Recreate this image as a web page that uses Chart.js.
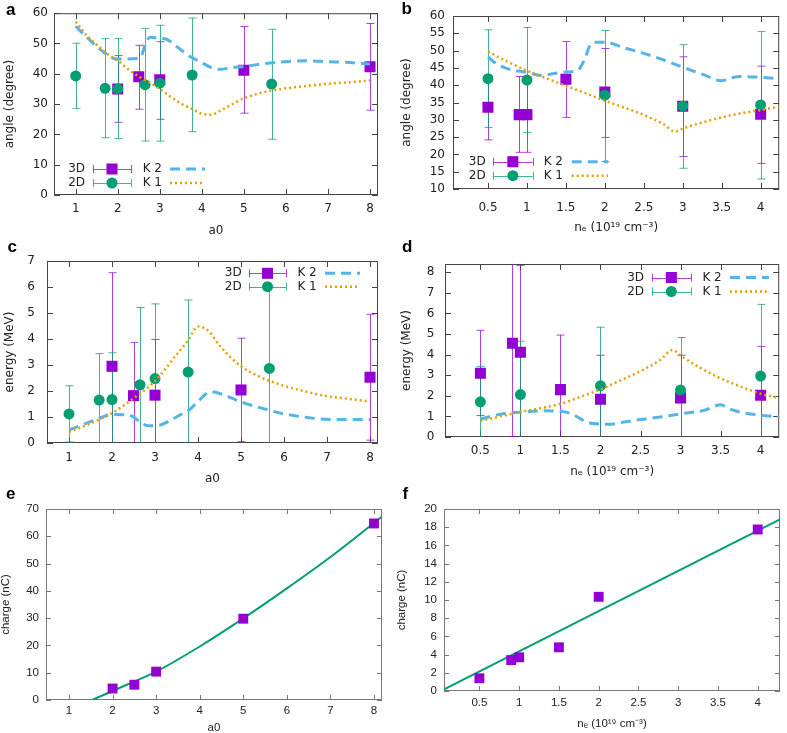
<!DOCTYPE html>
<html>
<head>
<meta charset="utf-8">
<script src="https://cdn.jsdelivr.net/npm/chart.js@4.4.0/dist/chart.umd.min.js"></script>
<style>
  body { margin: 0; background: #fff; width: 787px; height: 733px; position: relative; overflow: hidden; }
  canvas { position: absolute; }
</style>
</head>
<body>
<canvas id="chartA"></canvas>
<canvas id="chartB"></canvas>
<canvas id="chartC"></canvas>
<canvas id="chartD"></canvas>
<canvas id="chartE"></canvas>
<canvas id="chartF"></canvas>
<script>
/* --- 1. DATA --- */

// a : angle vs a0
const a3dX = [2, 2.5, 3, 5, 8];
const a3dY = [35, 39, 38, 41.2, 42.3];
const a3dLow = [24, 28.3, 25, 27, 28];
const a3dHigh = [46, 49.4, 50.6, 55.6, 56.6];
const a2dX = [1, 1.7, 2, 2.65, 3, 3.77, 5.66];
const a2dY = [39.3, 35.2, 35, 36.4, 36.9, 39.6, 36.6];
const a2dLow = [28.6, 18.9, 18.6, 17.8, 17.8, 20.9, 18.4];
const a2dHigh = [50.1, 51.6, 51.6, 55, 56, 58.4, 54.7];
const aK2X = [1, 1.26, 1.5, 1.7, 1.82, 2, 2.49, 2.57, 2.65, 2.77, 3, 3.16, 3.4, 3.72, 3.96, 4.27, 4.43, 4.75, 5, 5.46, 5.98, 6.49, 7, 7.52, 8];
const aK2Y = [55.7, 52.1, 49.0, 46.8, 45.5, 44.9, 45.1, 46.2, 49.5, 52.1, 51.7, 51.4, 49.0, 45.7, 44.0, 41.8, 41.5, 42.1, 42.4, 43.3, 44.0, 44.3, 44.0, 43.7, 43.2];
const aK1X = [1, 1.25, 1.5, 1.75, 2, 2.25, 2.5, 2.75, 3, 3.25, 3.5, 3.75, 4, 4.2, 4.5, 5, 5.5, 6, 6.5, 7, 7.5, 8];
const aK1Y = [57.2, 52.9, 49.6, 46.6, 44.3, 41.5, 39.1, 37.2, 35.0, 32.5, 30.2, 28.5, 26.8, 26.5, 28.3, 31.9, 34.0, 35.2, 36.0, 36.7, 37.2, 37.8];

// b : angle vs ne
const b3dX = [0.5, 0.9, 1, 1.5, 2, 3, 4];
const b3dY = [33.6, 31.5, 31.5, 41.7, 38, 33.9, 31.6];
const b3dLow = [24.2, 20.6, 20.6, 30.7, 24.9, 19.4, 17.4];
const b3dHigh = [42.9, 42.5, 42.5, 52.6, 50.6, 48.2, 45.5];
const b2dX = [0.5, 1, 2, 3, 4];
const b2dY = [41.9, 41.5, 37.1, 34, 34.3];
const b2dLow = [27.8, 26.3, 17.9, 16, 12.9];
const b2dHigh = [56, 56.7, 55.8, 51.7, 55.5];
const bK2X = [0.5, 0.6, 0.8, 0.95, 1.05, 1.2, 1.35, 1.5, 1.65, 1.75, 1.8, 1.87, 2, 2.25, 2.5, 2.75, 3, 3.25, 3.5, 3.6, 3.75, 4, 4.23];
const bK2Y = [48.2, 46.3, 44.4, 43.9, 43.4, 42.8, 43.4, 43.8, 44.3, 48, 51.1, 52.4, 52.4, 50.8, 49.2, 47.3, 45.2, 43.2, 41.3, 42.0, 42.5, 42.3, 41.9];
const bK1X = [0.5, 0.75, 1, 1.25, 1.5, 1.75, 2, 2.25, 2.5, 2.75, 2.9, 3, 3.25, 3.5, 3.75, 4, 4.23];
const bK1Y = [49.7, 46.8, 44.2, 42.0, 39.8, 37.7, 35.5, 33.5, 31.4, 28.8, 26.6, 27.5, 29.2, 30.7, 31.9, 32.8, 33.8];

// c : energy vs a0
const c3dX = [2, 2.5, 3, 5, 8];
const c3dY = [2.95, 1.82, 1.84, 2.04, 2.53];
const c3dLow = [-0.65, -0.23, -0.3, 0.05, 0.11];
const c3dHigh = [6.55, 3.87, 3.98, 4.03, 4.95];
const c2dX = [1, 1.7, 2, 2.65, 3, 3.77, 5.66];
const c2dY = [1.12, 1.65, 1.67, 2.24, 2.48, 2.73, 2.87];
const c2dLow = [0.04, -0.14, -0.13, -0.73, -0.39, -0.04, -0.26];
const c2dHigh = [2.2, 3.44, 3.47, 5.21, 5.35, 5.5, 6.0];
const cK2X = [1, 1.25, 1.5, 1.75, 2, 2.35, 2.5, 2.65, 2.85, 3.1, 3.3, 3.55, 3.8, 4, 4.3, 4.6, 5, 5.5, 6, 6.5, 7, 7.5, 8];
const cK2Y = [0.5, 0.66, 0.82, 0.98, 1.1, 1.08, 1.0, 0.8, 0.66, 0.68, 0.82, 1.05, 1.28, 1.6, 1.97, 1.85, 1.58, 1.33, 1.12, 0.99, 0.91, 0.9, 0.9];
const cK1X = [1, 1.5, 2, 2.5, 3, 3.5, 3.75, 4, 4.25, 4.5, 5, 5.5, 6, 6.5, 7, 7.5, 8];
const cK1Y = [0.42, 0.75, 1.15, 1.72, 2.38, 3.4, 3.9, 4.48, 4.3, 3.75, 2.95, 2.5, 2.2, 1.98, 1.8, 1.7, 1.6];

// d : energy vs ne
const d3dX = [0.5, 0.9, 1, 1.5, 2, 3, 4];
const d3dY = [3.1, 4.55, 4.12, 2.3, 1.83, 1.9, 2.03];
const d3dLow = [1.04, 0.02, -0.09, -0.35, -0.31, -0.17, -0.34];
const d3dHigh = [5.18, 9.08, 8.33, 4.95, 3.97, 3.97, 4.4];
const d2dX = [0.5, 1, 2, 3, 4];
const d2dY = [1.71, 2.06, 2.49, 2.28, 2.96];
const d2dLow = [-0.01, -0.53, -0.35, -0.27, -0.52];
const d2dHigh = [3.43, 4.65, 5.33, 4.83, 6.44];
const dK2X = [0.5, 0.8, 1.05, 1.3, 1.55, 1.65, 1.75, 1.85, 2.1, 2.3, 2.5, 2.77, 3.03, 3.3, 3.5, 3.6, 3.75, 4, 4.23];
const dK2Y = [0.88, 1.14, 1.22, 1.27, 1.22, 1.1, 0.88, 0.68, 0.62, 0.73, 0.85, 0.98, 1.14, 1.3, 1.56, 1.38, 1.2, 1.06, 0.98];
const dK1X = [0.5, 0.75, 1, 1.25, 1.5, 1.75, 2, 2.25, 2.5, 2.75, 2.9, 3, 3.25, 3.5, 3.75, 4, 4.23];
const dK1Y = [0.78, 1.0, 1.22, 1.4, 1.61, 1.95, 2.31, 2.75, 3.2, 3.75, 4.23, 3.95, 3.35, 2.85, 2.45, 2.1, 1.9];

// e : charge vs a0
const e3dX = [2, 2.5, 3, 5, 8];
const e3dY = [4.2, 5.6, 10.4, 29.8, 64.7];
const eFitX = [1.53, 2, 2.5, 3, 4, 5, 6, 7, 8, 8.19];
const eFitY = [0, 3.3, 6.8, 10.4, 19.6, 29.9, 40.9, 52.4, 64.9, 67.3];

// f : charge vs ne
const f3dX = [0.5, 0.9, 1, 1.5, 2, 4];
const f3dY = [1.4, 3.4, 3.7, 4.8, 10.35, 17.75];
const fFitX = [0.055, 4.28];
const fFitY = [0.18, 18.86];

// tick labels
const ticksA0 = [1, 2, 3, 4, 5, 6, 7, 8];
const ticksNe = [0.5, 1, 1.5, 2, 2.5, 3, 3.5, 4];
const ticksAngleA = [0, 10, 20, 30, 40, 50, 60];
const ticksAngleB = [10, 15, 20, 25, 30, 35, 40, 45, 50, 55, 60];
const ticksEnergyC = [0, 1, 2, 3, 4, 5, 6, 7];
const ticksEnergyD = [0, 1, 2, 3, 4, 5, 6, 7, 8];
const ticksChargeE = [0, 10, 20, 30, 40, 50, 60, 70];
const ticksChargeF = [0, 2, 4, 6, 8, 10, 12, 14, 16, 18, 20];

const PURPLE = "#9400d3";
const GREEN = "#009e73";
const BLUE = "#56b4e9";
const ORANGE = "#e69f00";
const TEXT = "#222";
const NE_TITLE = "nₑ (10¹⁹ cm⁻³)";

/* --- 2. DATASETS --- */

function pts(xs, ys) {
    return xs.map((x, i) => ({ x, y: ys[i] }));
}

function errSet(label, xs, ys, lo, hi, color, style, radius) {
    return {
        label, data: pts(xs, ys), errLow: lo, errHigh: hi,
        showLine: false, pointStyle: style, pointRadius: radius,
        backgroundColor: color, borderColor: color, borderWidth: 0,
        order: label === "3D" ? 3 : 2
    };
}

function curveSet(label, xs, ys, color, dash, width, order) {
    return {
        label, data: pts(xs, ys), showLine: true, pointRadius: 0,
        borderColor: color, backgroundColor: color, borderWidth: width,
        borderDash: dash, borderCapStyle: "butt", cubicInterpolationMode: "monotone",
        fill: false, order
    };
}

function fourSets(x3, y3, l3, h3, x2, y2, l2, h2, xk2, yk2, xk1, yk1) {
    return [
        errSet("3D", x3, y3, l3, h3, PURPLE, "rect", 7.8),
        errSet("2D", x2, y2, l2, h2, GREEN, "circle", 5.5),
        curveSet("K 2", xk2, yk2, BLUE, [10, 6], 3, 1),
        curveSet("K 1", xk1, yk1, ORANGE, [2, 3], 2.5, 0)
    ];
}

/* --- 3. GNUPLOT LOOK : frame, inward ticks, error bars, key, letter --- */

const gnuStyle = {
    id: "gnuStyle",
    beforeDatasetsDraw(chart, args, o) {
        const { ctx, chartArea: a, scales: { x, y } } = chart;
        ctx.save();
        ctx.strokeStyle = o.frameColor;
        ctx.lineWidth = 1;
        ctx.strokeRect(a.left + 0.5, a.top + 0.5, a.right - a.left - 1, a.bottom - a.top - 1);

        // ticks on the four sides, pointing inside
        ctx.beginPath();
        x.ticks.forEach(t => {
            const px = Math.round(x.getPixelForValue(t.value)) + 0.5;
            ctx.moveTo(px, a.bottom); ctx.lineTo(px, a.bottom - o.tick);
            ctx.moveTo(px, a.top); ctx.lineTo(px, a.top + o.tick);
        });
        y.ticks.forEach(t => {
            const py = Math.round(y.getPixelForValue(t.value)) + 0.5;
            ctx.moveTo(a.left, py); ctx.lineTo(a.left + o.tick, py);
            ctx.moveTo(a.right, py); ctx.lineTo(a.right - o.tick, py);
        });
        ctx.stroke();

        // error bars
        ctx.beginPath();
        ctx.rect(a.left, a.top, a.right - a.left, a.bottom - a.top);
        ctx.clip();
        chart.data.datasets.forEach(ds => {
            if (!ds.errLow) return;
            ctx.strokeStyle = ds.backgroundColor;
            ctx.globalAlpha = 0.75;
            ctx.beginPath();
            ds.data.forEach((p, i) => {
                const px = Math.round(x.getPixelForValue(p.x)) + 0.5;
                const lo = y.getPixelForValue(ds.errLow[i]);
                const hi = y.getPixelForValue(ds.errHigh[i]);
                ctx.moveTo(px, lo); ctx.lineTo(px, hi);
                ctx.moveTo(px - 4, lo); ctx.lineTo(px + 4, lo);
                ctx.moveTo(px - 4, hi); ctx.lineTo(px + 4, hi);
            });
            ctx.stroke();
        });
        ctx.restore();
    },
    afterDatasetsDraw(chart, args, o) {
        const { ctx } = chart;
        const [bx, by] = o.box;
        ctx.save();

        // panel letter
        ctx.fillStyle = "#000";
        ctx.font = "bold 17px 'Liberation Sans', Arial, sans-serif";
        ctx.textBaseline = "alphabetic";
        ctx.textAlign = "left";
        ctx.fillText(o.letter[0], o.letter[1] - bx, o.letter[2] - by);

        // key (gnuplot style, two columns)
        const k = o.key;
        if (k) {
            const ds = chart.data.datasets;
            ctx.font = o.font;
            ctx.textAlign = "right";
            ctx.textBaseline = "middle";
            [[ds[0], ds[2]], [ds[1], ds[3]]].forEach((pair, row) => {
                const ry = k.rows[row] - by;
                const [pt, cv] = pair;
                ctx.fillStyle = TEXT;
                ctx.fillText(pt.label, k.t1 - bx, ry);
                ctx.fillText(cv.label, k.t2 - bx, ry);

                // error bar sample
                const x1 = k.s1[0] - bx, x2 = k.s1[1] - bx;
                ctx.strokeStyle = pt.backgroundColor;
                ctx.lineWidth = 1;
                ctx.globalAlpha = 0.75;
                ctx.beginPath();
                ctx.moveTo(x1, Math.round(ry) + 0.5); ctx.lineTo(x2, Math.round(ry) + 0.5);
                ctx.moveTo(Math.round(x1) + 0.5, ry - 4); ctx.lineTo(Math.round(x1) + 0.5, ry + 4);
                ctx.moveTo(Math.round(x2) + 0.5, ry - 4); ctx.lineTo(Math.round(x2) + 0.5, ry + 4);
                ctx.stroke();
                ctx.globalAlpha = 1;
                ctx.fillStyle = pt.backgroundColor;
                Chart.helpers.drawPoint(ctx, {
                    pointStyle: pt.pointStyle, radius: pt.pointRadius, rotation: 0, borderWidth: 0
                }, (x1 + x2) / 2, ry);

                // curve sample
                ctx.strokeStyle = cv.borderColor;
                ctx.lineWidth = cv.borderWidth;
                ctx.setLineDash(cv.borderDash);
                ctx.beginPath();
                ctx.moveTo(k.s2[0] - bx, ry); ctx.lineTo(k.s2[1] - bx, ry);
                ctx.stroke();
                ctx.setLineDash([]);
            });
        }
        ctx.restore();
    }
};

/* --- 4. PANEL BUILDER --- */

function buildPanel(p) {
    const [bx, by, bw, bh] = p.box;
    const [l, t, r, b] = p.area;
    const canvas = document.getElementById(p.id);
    canvas.width = bw;
    canvas.height = bh;
    canvas.style.left = bx + "px";
    canvas.style.top = by + "px";

    const font = { family: p.family, size: p.size };
    const lh = p.size * 1.2;
    const cssFont = p.size + "px " + p.family;

    return new Chart(canvas, {
        type: "scatter",
        data: { datasets: p.datasets },
        options: {
            responsive: false,
            animation: false,
            devicePixelRatio: 1,
            layout: { padding: { left: 0, top: t - by, right: bx + bw - r, bottom: 0 } },
            plugins: {
                legend: { display: false },
                tooltip: { enabled: false },
                gnuStyle: {
                    box: p.box, letter: p.letter, key: p.key, font: cssFont,
                    frameColor: p.frameColor, tick: p.tick
                }
            },
            scales: {
                x: {
                    type: "linear", min: p.xRange[0], max: p.xRange[1],
                    afterBuildTicks: s => { s.ticks = p.xTicks.map(v => ({ value: v })); },
                    afterFit: s => { s.height = by + bh - b; },
                    grid: { display: false, drawTicks: false },
                    border: { display: false },
                    ticks: {
                        color: TEXT, font, padding: p.xPad, autoSkip: false,
                        maxRotation: 0, minRotation: 0, callback: v => String(v)
                    },
                    title: {
                        display: true, text: p.xTitle, color: TEXT, font,
                        padding: { top: 0, bottom: by + bh - p.xTitleY - lh / 2 }
                    }
                },
                y: {
                    type: "linear", min: p.yRange[0], max: p.yRange[1],
                    afterBuildTicks: s => { s.ticks = p.yTicks.map(v => ({ value: v })); },
                    afterFit: s => { s.width = l - bx; },
                    grid: { display: false, drawTicks: false },
                    border: { display: false },
                    ticks: { color: TEXT, font, padding: p.yPad, autoSkip: false, callback: v => String(v) },
                    title: {
                        display: true, text: p.yTitle, color: TEXT, font,
                        padding: { top: p.yTitleX - bx - lh / 2, bottom: 0 }
                    }
                }
            }
        },
        plugins: [gnuStyle]
    });
}

/* --- 5. THE SIX PANELS --- */

const DEJAVU = "'DejaVu Sans', sans-serif";
const LIBERATION = "'Liberation Sans', Arial, sans-serif";

buildPanel({
    id: "chartA", box: [0, 0, 393, 245], area: [54, 13, 378, 195],
    xRange: [0.484, 8.19], yRange: [0, 60], xTicks: ticksA0, yTicks: ticksAngleA,
    xTitle: "a0", yTitle: "angle (degree)", xTitleY: 231, yTitleX: 9.5,
    xPad: 6.8, yPad: 6, family: DEJAVU, size: 12, frameColor: "#444", tick: 6,
    letter: ["a", 6, 15],
    key: { rows: [169, 183], t1: 85, s1: [93, 131], t2: 162, s2: [170, 205] },
    datasets: fourSets(a3dX, a3dY, a3dLow, a3dHigh, a2dX, a2dY, a2dLow, a2dHigh, aK2X, aK2Y, aK1X, aK1Y)
});

buildPanel({
    id: "chartB", box: [393, 0, 394, 245], area: [453, 16, 782, 189],
    xRange: [0.051, 4.238], yRange: [10, 60], xTicks: ticksNe, yTicks: ticksAngleB,
    xTitle: NE_TITLE, yTitle: "angle (degree)", xTitleY: 227.5, yTitleX: 406.5,
    xPad: 11.8, yPad: 8, family: DEJAVU, size: 12, frameColor: "#444", tick: 6,
    letter: ["b", 401.5, 13.5],
    key: { rows: [161.7, 175.7], t1: 485.7, s1: [493, 532.7], t2: 563, s2: [571.7, 608] },
    datasets: fourSets(b3dX, b3dY, b3dLow, b3dHigh, b2dX, b2dY, b2dLow, b2dHigh, bK2X, bK2Y, bK1X, bK1Y)
});

buildPanel({
    id: "chartC", box: [0, 236, 393, 250], area: [47, 261, 378, 443],
    xRange: [0.488, 8.186], yRange: [0, 7], xTicks: ticksA0, yTicks: ticksEnergyC,
    xTitle: "a0", yTitle: "energy (MeV)", xTitleY: 479, yTitleX: 9.5,
    xPad: 7.6, yPad: 12, family: DEJAVU, size: 12, frameColor: "#444", tick: 6,
    letter: ["c", 7.5, 251.7],
    key: { rows: [273.3, 286.7], t1: 241.7, s1: [249, 286], t2: 316.7, s2: [325, 360] },
    datasets: fourSets(c3dX, c3dY, c3dLow, c3dHigh, c2dX, c2dY, c2dLow, c2dHigh, cK2X, cK2Y, cK1X, cK1Y)
});

buildPanel({
    id: "chartD", box: [393, 236, 394, 250], area: [445, 264, 782, 437],
    xRange: [0.058, 4.232], yRange: [0, 8.4], xTicks: ticksNe, yTicks: ticksEnergyD,
    xTitle: NE_TITLE, yTitle: "energy (MeV)", xTitleY: 472, yTitleX: 406.5,
    xPad: 7.1, yPad: 10.5, family: DEJAVU, size: 12, frameColor: "#444", tick: 6,
    letter: ["d", 402, 252],
    key: { rows: [277.5, 291.5], t1: 644, s1: [651.7, 691], t2: 721.7, s2: [730, 769] },
    datasets: fourSets(d3dX, d3dY, d3dLow, d3dHigh, d2dX, d2dY, d2dLow, d2dHigh, dK2X, dK2Y, dK1X, dK1Y)
});

buildPanel({
    id: "chartE", box: [0, 485, 393, 248], area: [46, 509, 382, 700],
    xRange: [0.472, 8.184], yRange: [0, 70], xTicks: ticksA0, yTicks: ticksChargeE,
    xTitle: "a0", yTitle: "charge (nC)", xTitleY: 728, yTitleX: 6,
    xPad: 4.2, yPad: 7, family: LIBERATION, size: 11.5, frameColor: "#777", tick: 5,
    letter: ["e", 6, 499],
    datasets: [
        { label: "3D", data: pts(e3dX, e3dY), showLine: false, pointStyle: "rect", pointRadius: 7,
          backgroundColor: PURPLE, borderWidth: 0, order: 0 },
        curveSet("fit", eFitX, eFitY, GREEN, [], 2, 1)
    ]
});

buildPanel({
    id: "chartF", box: [393, 485, 394, 248], area: [444, 509, 786, 691],
    xRange: [0.055, 4.28], yRange: [0, 20], xTicks: ticksNe, yTicks: ticksChargeF,
    xTitle: NE_TITLE, yTitle: "charge (nC)", xTitleY: 724, yTitleX: 402,
    xPad: 4.5, yPad: 7, family: LIBERATION, size: 11.5, frameColor: "#777", tick: 5,
    letter: ["f", 402.5, 499],
    datasets: [
        { label: "3D", data: pts(f3dX, f3dY), showLine: false, pointStyle: "rect", pointRadius: 7,
          backgroundColor: PURPLE, borderWidth: 0, order: 0 },
        curveSet("fit", fFitX, fFitY, GREEN, [], 2, 1)
    ]
});
</script>
</body>
</html>
